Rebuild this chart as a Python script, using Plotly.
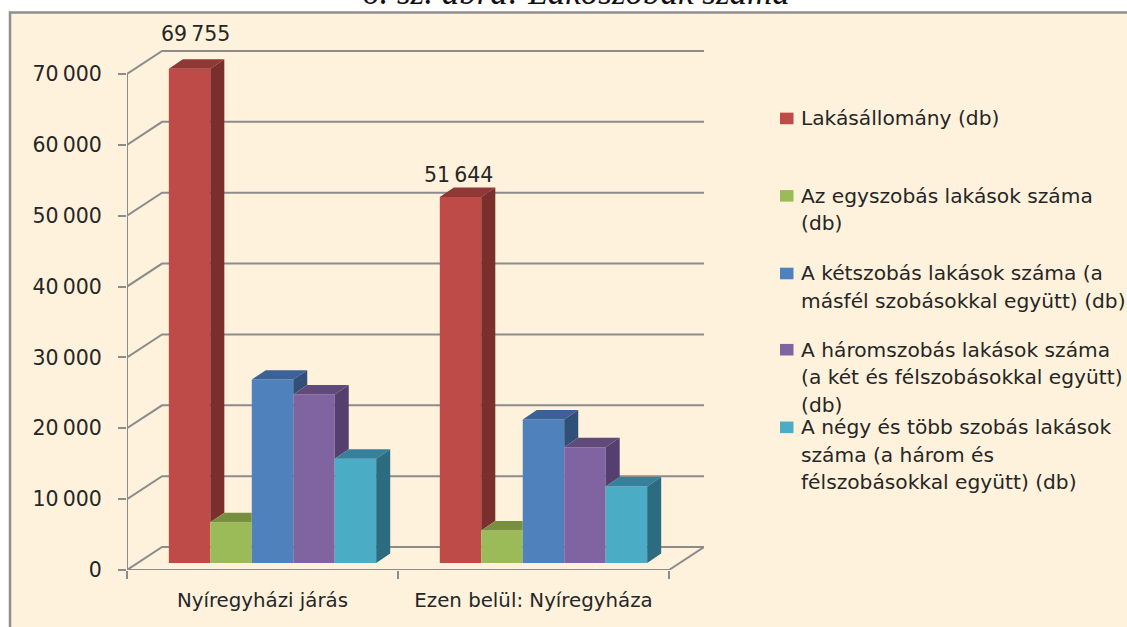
import plotly.graph_objects as go

CATEGORIES = ["Nyíregyházi járás", "Ezen belül: Nyíregyháza"]
SERIES_NAMES = [
    "Lakásállomány (db)",
    "Az egyszobás lakások száma (db)",
    "A kétszobás lakások száma (a másfél szobásokkal együtt) (db)",
    "A háromszobás lakások száma (a két és félszobásokkal együtt) (db)",
    "A négy és több szobás lakások száma (a három és félszobásokkal együtt) (db)",
]
LAKASALLOMANY = [69755, 51644]
EGYSZOBAS = [5750, 4580]
KETSZOBAS = [25880, 20240]
HAROMSZOBAS = [23770, 16330]
NEGYSZOBAS = [14700, 10790]
VALUES = [LAKASALLOMANY, EGYSZOBAS, KETSZOBAS, HAROMSZOBAS, NEGYSZOBAS]
TICK_VALUES = [0, 10000, 20000, 30000, 40000, 50000, 60000, 70000]
TICK_LABELS = ["0", "10\u2009000", "20\u2009000", "30\u2009000", "40\u2009000", "50\u2009000", "60\u2009000", "70\u2009000"]
LEGEND_LINES = [
    ["Lakásállomány (db)"],
    ["Az egyszobás lakások száma", "(db)"],
    ["A kétszobás lakások száma (a", "másfél szobásokkal együtt) (db)"],
    ["A háromszobás lakások száma", "(a két és félszobásokkal együtt)", "(db)"],
    ["A négy és több szobás lakások", "száma (a három és", "félszobásokkal együtt) (db)"],
]
TITLE = "6. sz. ábra: Lakószobák száma"

FRONT = ["#BE4B48", "#9BBB59", "#4F81BD", "#8064A2", "#4BACC6"]
TOP = ["#8F3836", "#76903F", "#3A6296", "#604A7B", "#35809A"]
SIDE = ["#7B2F2D", "#64793A", "#305078", "#543F6F", "#2B6C80"]
GREY = "#8C8C8C"
INK = "#262626"
FONT = "DejaVu Sans"

W, H = 1127, 627
L, R, T, B = 127, 423, 46, 56.5
PX_PER_CAT = 270.5
PX_PER_UNIT = 496.5 / 70000
YMAX = (H - T - B) / PX_PER_UNIT
WALL_DX = 35 / PX_PER_CAT
WALL_DY = 23 / PX_PER_UNIT
BAR_DX = 14 / PX_PER_CAT
BAR_DY = 9.5 / PX_PER_UNIT
FLOOR = 7 / PX_PER_UNIT
BAR_W = 41.4 / PX_PER_CAT
GROUP_SHIFT = 0.537
XMAX = 2 + WALL_DX


def xp(px):
    return (px - L) / (W - L - R)


def yp(py):
    return 1 - (py - T) / (H - T - B)


fig = go.Figure()


def face(xs, ys, color):
    fig.add_trace(go.Scatter(x=xs + xs[:1], y=ys + ys[:1], mode="lines", fill="toself",
                             fillcolor=color, line=dict(width=0, color=color),
                             hoverinfo="skip", showlegend=False))


n = len(VALUES)
for s, vals in enumerate(VALUES):
    fig.add_trace(go.Bar(x=[i + GROUP_SHIFT for i in range(len(CATEGORIES))], y=vals,
                         base=FLOOR, name=SERIES_NAMES[s], marker=dict(color=FRONT[s], line=dict(width=0)),
                         showlegend=False))

for s, vals in enumerate(VALUES):
    for c, v in enumerate(vals):
        xl = c + GROUP_SHIFT + (s - n / 2) * BAR_W
        xr = xl + BAR_W
        top = FLOOR + v
        nxt = FLOOR + VALUES[s + 1][c] if s + 1 < n else FLOOR
        if nxt > top:
            face([xl, xl + BAR_DX, xr, xr], [top, top + BAR_DY, top + BAR_DY, top], TOP[s])
        else:
            face([xl, xl + BAR_DX, xr + BAR_DX, xr], [top, top + BAR_DY, top + BAR_DY, top], TOP[s])
            face([xr, xr + BAR_DX, xr + BAR_DX, xr], [top, top + BAR_DY, nxt + BAR_DY, nxt], SIDE[s])

axis_line = dict(color=GREY, width=2)
for xs, ys in [([0, 0], [0, 70000]), ([0, 2], [0, 0]), ([2, 2 + WALL_DX], [0, WALL_DY])]:
    fig.add_trace(go.Scatter(x=xs, y=ys, mode="lines", line=axis_line, cliponaxis=False,
                             hoverinfo="skip", showlegend=False))

shapes = [dict(type="rect", xref="paper", yref="paper", x0=xp(10), x1=xp(W + 10), y0=yp(H + 10), y1=yp(12.5),
               fillcolor="#FFF2DC", line=dict(color="#8F8F8F", width=2.5), layer="below")]
for t in TICK_VALUES:
    shapes.append(dict(type="path", xref="x", yref="y", layer="below",
                       path=f"M 0 {t} L {WALL_DX} {t + WALL_DY} L {XMAX} {t + WALL_DY}",
                       line=axis_line))

annotations = [dict(text=f"<i>{TITLE}</i>", xref="paper", yref="paper", x=xp(576), y=yp(-8), showarrow=False,
                    xanchor="center", yanchor="middle",
                    font=dict(family="Liberation Serif", size=35, color="#111111"))]

LABEL_SHIFTS = [(6, 35), (-2, 22)]
for c, v in enumerate(LAKASALLOMANY):
    annotations.append(dict(text=f"{v:,}".replace(",", "\u2009"), xref="x", yref="y",
                            x=c + GROUP_SHIFT + (0.5 - n / 2) * BAR_W, y=FLOOR + v,
                            xshift=LABEL_SHIFTS[c][0], yshift=LABEL_SHIFTS[c][1], showarrow=False,
                            xanchor="center", yanchor="middle",
                            font=dict(family=FONT, size=20.5, color=INK)))

LEGEND_Y = [118.5, 196, 273.7, 350, 427.7]
LINE_PITCH = 27.5
for s, lines in enumerate(LEGEND_LINES):
    yc = LEGEND_Y[s]
    shapes.append(dict(type="rect", xref="paper", yref="paper", x0=xp(780), x1=xp(793.5),
                       y0=yp(yc + 5.8), y1=yp(yc - 5.8), fillcolor=FRONT[s], line=dict(width=0)))
    for k, line in enumerate(lines):
        annotations.append(dict(text=line, xref="paper", yref="paper", x=xp(799), y=yp(yc + k * LINE_PITCH),
                                showarrow=False, xanchor="left", yanchor="middle",
                                font=dict(family=FONT, size=20.2, color=INK)))

fig.update_layout(
    width=W, height=H, margin=dict(l=L, r=R, t=T, b=B, autoexpand=False),
    paper_bgcolor="white", plot_bgcolor="rgba(0,0,0,0)",
    barmode="group", bargap=1 - n * BAR_W, bargroupgap=0,
    showlegend=False, shapes=shapes, annotations=annotations,
    font=dict(family=FONT, color=INK),
    xaxis=dict(range=[0, XMAX], showgrid=False, zeroline=False, showline=False,
               tickmode="array", tickvals=[c + 0.5 for c in range(len(CATEGORIES))], ticktext=CATEGORIES,
               ticks="outside", ticklen=12, tickcolor="rgba(0,0,0,0)", tickfont=dict(family=FONT, size=19.8, color=INK),
               minor=dict(tickmode="array", tickvals=[0, 1, 2], ticks="outside", ticklen=8, tickwidth=2, tickcolor=GREY)),
    yaxis=dict(range=[0, YMAX], showgrid=False, zeroline=False, showline=False,
               tickmode="array", tickvals=TICK_VALUES, ticktext=TICK_LABELS,
               ticks="outside", ticklen=8, tickwidth=2, tickcolor=GREY, ticklabelstandoff=12,
               tickfont=dict(family=FONT, size=20.5, color=INK)),
)

fig.write_html("out.html", post_script="document.body.style.margin='0';document.body.style.overflow='hidden';",
               config={"displayModeBar": False})
